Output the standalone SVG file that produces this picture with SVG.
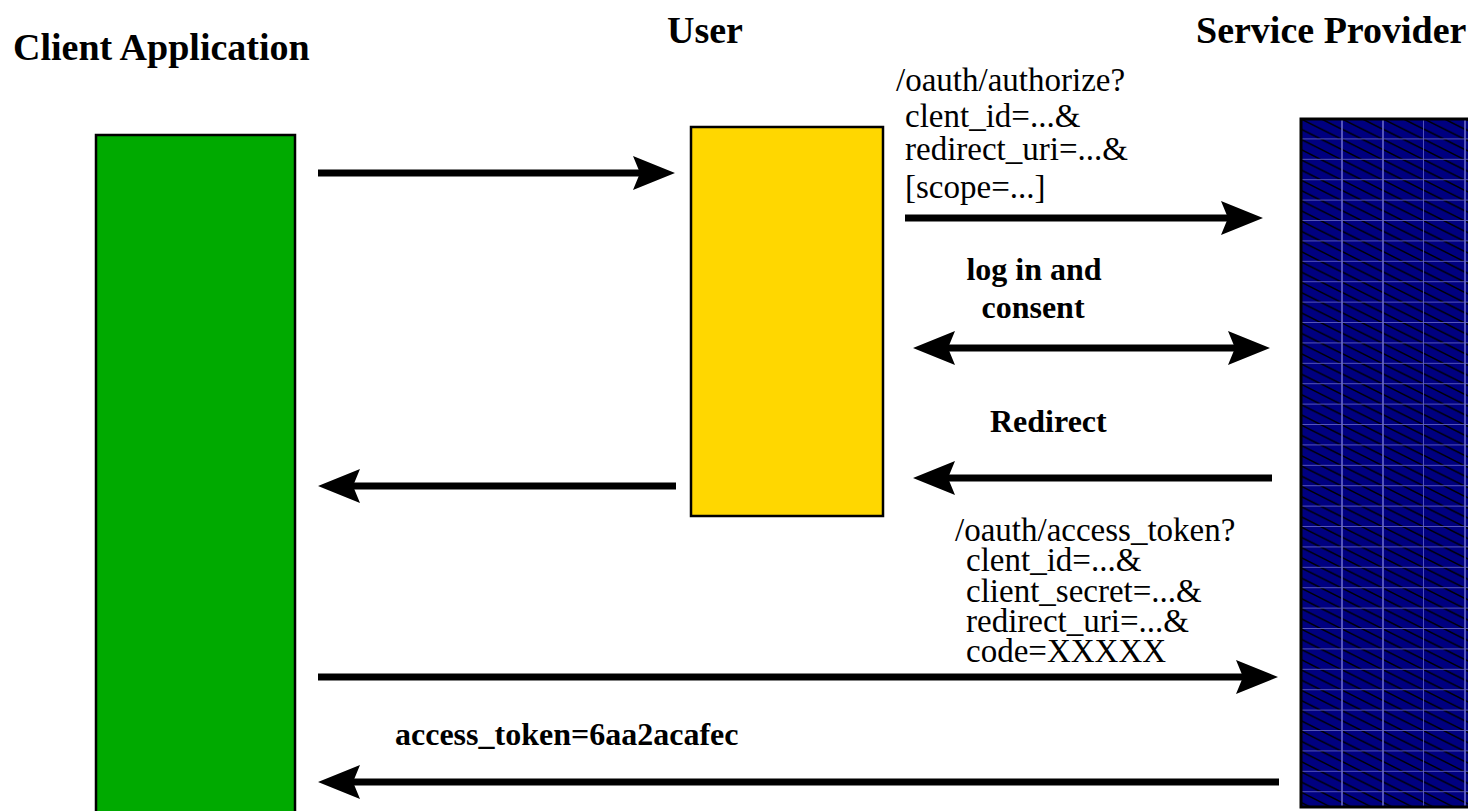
<svg xmlns="http://www.w3.org/2000/svg" width="1468" height="811" viewBox="0 0 1468 811">
  <style>
    .title { font-family: "Liberation Serif", "Times New Roman", serif; font-weight: bold; font-size: 38px; fill: #000; }
    .lbl { font-family: "Liberation Serif", "Times New Roman", serif; font-size: 33px; fill: #000; }
    .blbl { font-family: "Liberation Serif", "Times New Roman", serif; font-weight: bold; font-size: 32px; fill: #000; }
    .conn { stroke: #000; stroke-width: 7; fill: none; }
    .box { stroke: #000; stroke-width: 2.5; }
  </style>
  <defs>
    <marker id="ah" markerUnits="userSpaceOnUse" viewBox="0 0 42 34" markerWidth="42" markerHeight="34" refX="7" refY="17" orient="auto-start-reverse">
      <path d="M0,0 L42,17 L0,34 L7,17 Z" fill="#000"/>
    </marker>
    <pattern id="sp" patternUnits="userSpaceOnUse" x="1301" y="119" width="41" height="20.4">
      <rect x="0" y="0" width="41" height="20.4" fill="#000080"/>
      <path d="M0,0 L41,20.4 M0,-10.2 L41,10.2 M0,10.2 L41,30.6" stroke="#000" stroke-width="1.5"/>
      <rect x="40.2" y="0" width="0.9" height="20.4" fill="#6a6ac8"/>
      <rect x="0" y="19.6" width="41" height="0.9" fill="#6a6ac8"/>
    </pattern>
  </defs>

  <g id="client">
    <rect class="box" x="96" y="135" width="199" height="700" fill="#00aa00"/>
    <text class="title" x="13" y="60">Client Application</text>
  </g>

  <g id="user">
    <rect class="box" x="691" y="127" width="192" height="389" fill="#ffd700"/>
    <text class="title" x="667" y="43">User</text>
  </g>

  <g id="provider">
    <rect x="1301" y="119" width="200" height="688" fill="url(#sp)" stroke="#000" stroke-width="3"/>
    <text class="title" x="1196" y="43">Service Provider</text>
  </g>

  <g id="connectors">
    <line class="conn" x1="318" y1="173" x2="640" y2="173" marker-end="url(#ah)"/>
    <line class="conn" x1="905" y1="218" x2="1228" y2="218" marker-end="url(#ah)"/>
    <line class="conn" x1="948" y1="348" x2="1235" y2="348" marker-start="url(#ah)" marker-end="url(#ah)"/>
    <line class="conn" x1="1272" y1="478" x2="948" y2="478" marker-end="url(#ah)"/>
    <line class="conn" x1="676" y1="486" x2="353" y2="486" marker-end="url(#ah)"/>
    <line class="conn" x1="318" y1="677" x2="1243" y2="677" marker-end="url(#ah)"/>
    <line class="conn" x1="1279" y1="782" x2="353" y2="782" marker-end="url(#ah)"/>
  </g>

  <g id="labels">
    <text class="lbl" x="896" y="91">/oauth/authorize?</text>
    <text class="lbl" x="905" y="127">clent_id=...&amp;</text>
    <text class="lbl" x="905" y="160">redirect_uri=...&amp;</text>
    <text class="lbl" x="905" y="198">[scope=...]</text>

    <text class="blbl" x="1034" y="280" text-anchor="middle">log in and</text>
    <text class="blbl" x="1033" y="318" text-anchor="middle">consent</text>

    <text class="blbl" x="990" y="432">Redirect</text>

    <text class="lbl" x="955" y="541">/oauth/access_token?</text>
    <text class="lbl" x="966" y="571">clent_id=...&amp;</text>
    <text class="lbl" x="966" y="602">client_secret=...&amp;</text>
    <text class="lbl" x="966" y="632">redirect_uri=...&amp;</text>
    <text class="lbl" x="966" y="662">code=XXXXX</text>

    <text class="blbl" x="395" y="745">access_token=6aa2acafec</text>
  </g>
</svg>
